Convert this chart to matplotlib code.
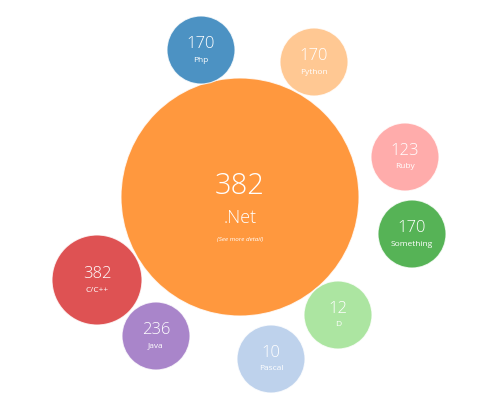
import matplotlib.pyplot as plt
from matplotlib.patches import Circle

# data
languages = ['.Net', 'Php', 'Python', 'Ruby', 'Something', 'D', 'Pascal', 'Java', 'C/C++']
counts = [382, 170, 170, 123, 170, 12, 10, 236, 382]

# layout (pixel coords, y down) and colours
centers = [(240, 197), (201, 50), (314, 62), (405, 157), (412, 234),
           (338, 315), (271, 359), (156, 336), (97, 280)]
radii = [119, 34, 34, 34, 34, 34, 34, 34, 45]
colors = ['#ff7f0e', '#1f77b4', '#ffbb78', '#ff9896', '#2ca02c',
          '#98df8a', '#aec7e8', '#9467bd', '#d62728']

plt.rcParams['font.family'] = ['Open Sans', 'DejaVu Sans']

fig = plt.figure(figsize=(5, 4), dpi=100)
ax = fig.add_axes([0, 0, 1, 1])
ax.set_xlim(0, 500)
ax.set_ylim(400, 0)
ax.axis('off')

for i, name in enumerate(languages):
    cx, cy = centers[i]
    r = radii[i]
    ax.add_patch(Circle((cx, cy), r, facecolor=colors[i], alpha=0.8,
                        edgecolor='white', linewidth=0.8))
    if i == 0:
        ax.text(cx, cy - 11, str(counts[i]), color='white', fontsize=21,
                fontweight=300, ha='center', va='center')
        ax.text(cx, cy + 21, name, color='white', fontsize=13,
                fontweight=300, ha='center', va='center')
        ax.text(cx, cy + 42, '(See more detail)', color='white', fontsize=4.5,
                style='italic', ha='center', va='center')
    else:
        ax.text(cx, cy - 6, str(counts[i]), color='white', fontsize=12,
                fontweight=300, ha='center', va='center')
        ax.text(cx, cy + 10, name, color='white', fontsize=6,
                ha='center', va='center')

fig.savefig('out.png', dpi=100)
